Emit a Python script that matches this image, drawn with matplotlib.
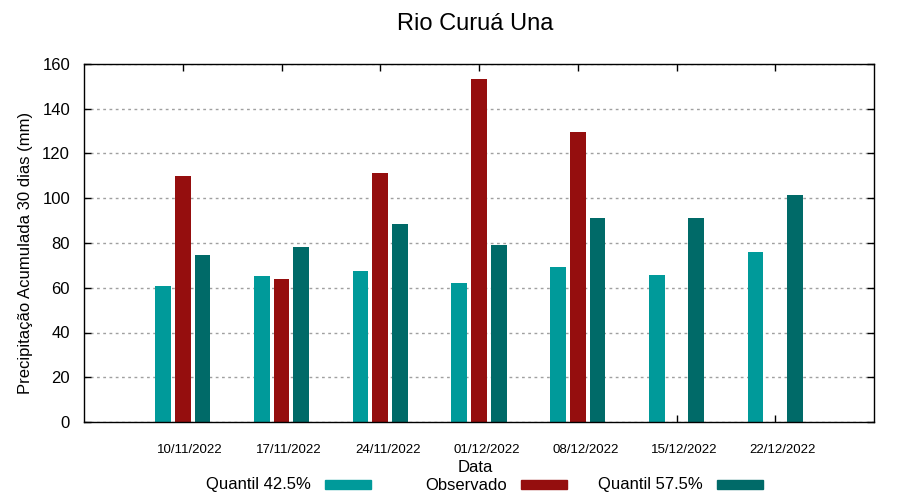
import numpy as np
import matplotlib
matplotlib.use("Agg")
import matplotlib.pyplot as plt
import matplotlib.transforms as mtransforms
from matplotlib.patches import Rectangle

plt.rcParams['font.family'] = ['Liberation Sans', 'DejaVu Sans']
narrow = ['Liberation Sans Narrow', 'Liberation Sans']

# data
datas = ['10/11/2022', '17/11/2022', '24/11/2022', '01/12/2022',
         '08/12/2022', '15/12/2022', '22/12/2022']
quantil_425 = [61.0, 65.1, 67.3, 62.0, 69.1, 65.5, 76.2]
observado = [110.0, 63.7, 111.4, 153.1, 129.4, np.nan, np.nan]
quantil_575 = [74.5, 78.3, 88.4, 79.3, 91.0, 91.0, 101.4]
nomes = ['Quantil 42.5%', 'Observado', 'Quantil 57.5%']
cores = ['#009a9a', '#950e0e', '#006a68']

fig = plt.figure(figsize=(9, 5), dpi=100)
ax = fig.add_axes([84 / 900, 78 / 500, 790 / 900, 358 / 500])

x = np.arange(len(datas))
largura = 0.16
desloc = 0.2
series = [quantil_425, observado, quantil_575]
for i, (vals, cor) in enumerate(zip(series, cores)):
    ax.bar(x + (i - 1) * desloc, vals, width=largura, color=cor, zorder=2)

ax.set_xlim(-1, 7)
ax.set_ylim(0, 160)
ax.set_yticks(np.arange(0, 161, 20))
ax.set_xticks(x)
ax.set_xticklabels([])
# date labels sit a bit to the right of the ticks, like gnuplot
off = mtransforms.ScaledTranslation(7.5 / 100, -28 / 100, fig.dpi_scale_trans)
trans = ax.get_xaxis_transform() + off
for xi, d in zip(x, datas):
    ax.text(xi, 0, d, transform=trans, ha='center', va='center',
            fontsize=9.5, family=narrow)

ax.tick_params(axis='both', direction='in', length=5, width=1,
               top=True, right=True, colors='black')
ax.tick_params(axis='y', labelsize=12, pad=10)
ax.set_axisbelow(True)
ax.yaxis.grid(True, color='#a0a0a0', linestyle=(0, (2, 2.5)), linewidth=1)
for sp in ax.spines.values():
    sp.set_linewidth(1)
    sp.set_zorder(3)

fig.text(475 / 900, 1 - 24 / 500, 'Rio Curuá Una', ha='center', va='center',
         fontsize=17)
fig.text(26 / 900, 1 - 253 / 500, 'Precipitação Acumulada 30 dias (mm)',
         rotation=90, ha='center', va='center', fontsize=12)
fig.text(475 / 900, 1 - 467 / 500, 'Data', ha='center', va='center',
         fontsize=12, family=narrow)

# legend drawn like gnuplot: text then sample box
texto_dir = [311, 507, 703]
for nome, cor, xr in zip(nomes, cores, texto_dir):
    fig.text(xr / 900, 1 - 485 / 500, nome, ha='right', va='center',
             fontsize=12, family=narrow)
    fig.patches.append(Rectangle(((xr + 14) / 900, 1 - 489 / 500), 46 / 900, 9 / 500,
                                 transform=fig.transFigure, color=cor))

fig.savefig('out.png', dpi=100)
